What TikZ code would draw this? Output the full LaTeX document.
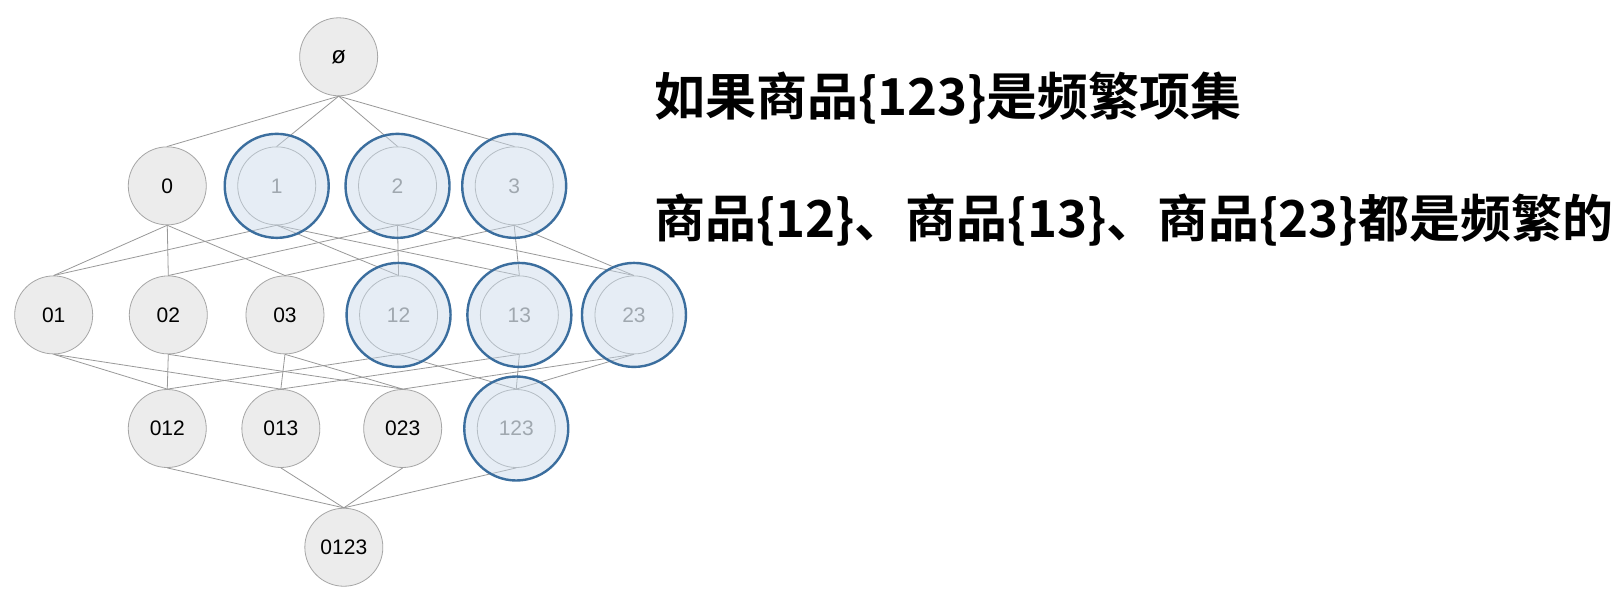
\documentclass[tikz,border=0pt]{standalone}
\usepackage{fontspec}
\setmainfont{Liberation Sans}
\newfontfamily\cjk{Noto Sans CJK SC}[BoldFont={* Bold}]
\definecolor{ringc}{HTML}{3B6E9E}
\definecolor{ringf}{HTML}{C8D9EA}
\begin{document}
\begin{tikzpicture}[x=1.0325pt,y=-1.0325pt,
  nd/.style={circle,draw=gray!70,fill=gray!15,line width=0.8pt,minimum size=78pt,inner sep=0pt,font=\fontsize{21}{21}\selectfont},
  hl/.style={nd,fill=none,text=gray},
  ring/.style={circle,draw=ringc,line width=2.4pt,fill=ringf,fill opacity=0.45,minimum size=104pt,inner sep=0pt},
  ed/.style={draw=gray!80,line width=0.8pt}]
\useasboundingbox (0,0) rectangle (1568,581);
\fill[white] (0,0) rectangle (1568,581);
\node[nd] (e) at (328,55) {\fontsize{24}{24}\selectfont ø};
\node[nd] (n0) at (162,180) {0};
\node[hl] (n1) at (268,180) {1};
\node[hl] (n2) at (385,180) {2};
\node[hl] (n3) at (498,180) {3};
\node[nd] (n01) at (52,305) {01};
\node[nd] (n02) at (163,305) {02};
\node[nd] (n03) at (276,305) {03};
\node[hl] (n12) at (386,305) {12};
\node[hl] (n13) at (503,305) {13};
\node[hl] (n23) at (614,305) {23};
\node[nd] (n012) at (162,415) {012};
\node[nd] (n013) at (272,415) {013};
\node[nd] (n023) at (390,415) {023};
\node[hl] (n123) at (500,415) {123};
\node[nd] (n0123) at (333,530) {0123};
\foreach \a/\b in {e/n0,e/n1,e/n2,e/n3,
  n0/n01,n0/n02,n0/n03,n1/n01,n1/n12,n1/n13,n2/n02,n2/n12,n2/n23,n3/n03,n3/n13,n3/n23,
  n01/n012,n01/n013,n02/n012,n02/n023,n03/n013,n03/n023,n12/n012,n12/n123,n13/n013,n13/n123,n23/n023,n23/n123,
  n012/n0123,n013/n0123,n023/n0123,n123/n0123}
  \draw[ed] (\a.south) -- (\b.north);
\foreach \n in {n1,n2,n3,n12,n13,n23,n123}
  \node[ring] (r\n) at (\n) {};
\node[anchor=west,font=\cjk\bfseries\fontsize{51}{51}\selectfont] (t1) at (630,95) {如果商品\{123\}是频繁项集};
\node[anchor=west,font=\cjk\bfseries\fontsize{51}{51}\selectfont] (t2) at (630,213) {商品\{12\}、商品\{13\}、商品\{23\}都是频繁的};
\end{tikzpicture}
\end{document}
